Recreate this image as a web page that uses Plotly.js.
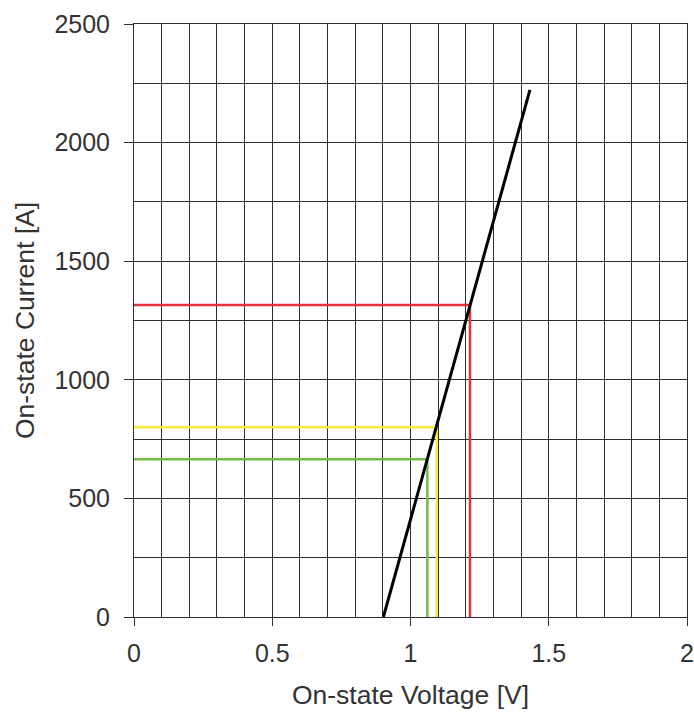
<!DOCTYPE html>
<html>
<head>
<meta charset="utf-8">
<script src="https://cdn.plot.ly/plotly-3.0.1.min.js"></script>
<style>html,body{margin:0;padding:0;background:#fff;}#chart{width:694px;height:715px;}</style>
</head>
<body>
<div id="chart"></div>
<script>
// Forward characteristic (black line) endpoints
const curveVoltage = [0.902, 1.432];
const curveCurrent = [0, 2222];

// Operating-point markers: [voltage, current]
const redVoltage = [0, 1.215, 1.215];
const redCurrent = [1315, 1315, 0];
const yellowVoltage = [0, 1.095, 1.095];
const yellowCurrent = [800, 800, 0];
const greenVoltage = [0, 1.061, 1.061];
const greenCurrent = [665, 665, 0];

const xTitle = 'On-state Voltage [V]';
const yTitle = 'On-state Current [A]';

const traces = [
  {x: redVoltage, y: redCurrent, mode: 'lines', line: {color: '#e2323c', width: 2.5}, hoverinfo: 'skip'},
  {x: yellowVoltage, y: yellowCurrent, mode: 'lines', line: {color: '#f3ec3a', width: 2.5}, hoverinfo: 'skip'},
  {x: greenVoltage, y: greenCurrent, mode: 'lines', line: {color: '#74bb48', width: 2.5}, hoverinfo: 'skip'},
  {x: curveVoltage, y: curveCurrent, mode: 'lines', line: {color: '#000000', width: 3}, hoverinfo: 'skip'}
];

const gridColor = '#2e2e2e';
const font = {family: '"Liberation Sans", Arial, sans-serif', size: 25, color: '#333333'};
const titleFont = {family: '"Liberation Sans", Arial, sans-serif', size: 26.5, color: '#333333'};

const layout = {
  width: 694, height: 715,
  margin: {l: 134, r: 7, t: 24, b: 98},
  paper_bgcolor: '#ffffff', plot_bgcolor: '#ffffff',
  showlegend: false,
  font: font,
  xaxis: {
    range: [0, 2], dtick: 0.5, tick0: 0,
    ticks: 'outside', ticklen: 8, tickcolor: gridColor, tickwidth: 1,
    ticklabelstandoff: 6,
    showgrid: true, gridcolor: gridColor, gridwidth: 1,
    minor: {dtick: 0.1, showgrid: true, gridcolor: gridColor, gridwidth: 1},
    showline: true, linecolor: gridColor, linewidth: 1, mirror: true,
    zeroline: false,
    tickfont: font,
    title: {text: xTitle, font: titleFont, standoff: 19}
  },
  yaxis: {
    range: [0, 2500], dtick: 500, tick0: 0,
    ticks: 'outside', ticklen: 9, tickcolor: gridColor, tickwidth: 1,
    ticklabelstandoff: 9,
    showgrid: true, gridcolor: gridColor, gridwidth: 1,
    minor: {dtick: 250, showgrid: true, gridcolor: gridColor, gridwidth: 1},
    showline: true, linecolor: gridColor, linewidth: 1, mirror: true,
    zeroline: false,
    tickfont: font,
    title: {text: yTitle, font: titleFont, standoff: 12}
  }
};

Plotly.newPlot('chart', traces, layout, {displayModeBar: false, staticPlot: true});
</script>
</body>
</html>
